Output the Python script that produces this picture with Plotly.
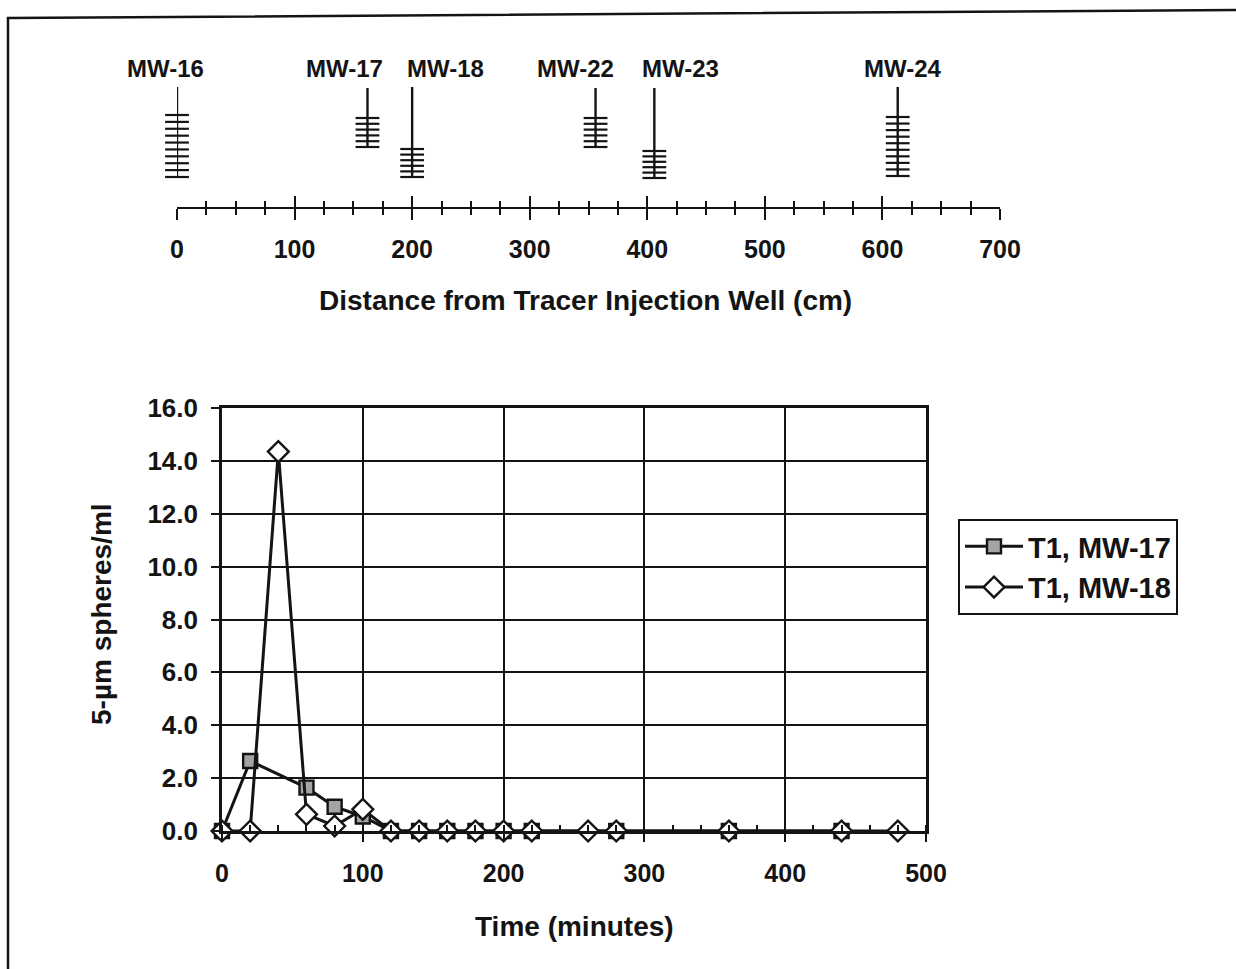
import numpy as np
import plotly.graph_objects as go

W, H = 1236, 969
FONT = "Liberation Sans, Arial, sans-serif"
INK = "#141414"

# ---- monitoring-well layout (distance from injection well, cm) ----
well_names = ["MW-16", "MW-17", "MW-18", "MW-22", "MW-23", "MW-24"]
well_distance_cm = [0, 162, 200, 356, 406, 613]
# relative depth of casing top and screened interval (schematic units)
casing_top = [0, 1, 0, 1, 1, 0]
screen_top = [28, 31, 62, 31, 64, 30]
screen_bottom = [90, 60, 90, 60, 91, 89]
screen_marks = [10, 6, 6, 6, 6, 10]
label_shift_px = [-12, -23, 33, -20, 26, 5]

# ---- sphere breakthrough, test T1 ----
t_mw17 = [0, 20, 60, 80, 100, 120, 140, 160, 180, 200, 220, 280, 360, 440]
c_mw17 = [0.0, 2.65, 1.64, 0.92, 0.55, 0.0, 0.0, 0.0, 0.0, 0.0, 0.0, 0.0, 0.0, 0.0]
t_mw18 = [0, 20, 40, 60, 80, 100, 120, 140, 160, 180, 200, 220, 260, 280, 360, 440, 480]
c_mw18 = [0.0, 0.0, 14.35, 0.63, 0.19, 0.82, 0.0, 0.0, 0.0, 0.0, 0.0, 0.0, 0.0, 0.0, 0.0, 0.0, 0.0]

y_ticks = [0, 2, 4, 6, 8, 10, 12, 14, 16]
t_ticks = [0, 100, 200, 300, 400, 500]
d_ticks = [0, 100, 200, 300, 400, 500, 600, 700]


def px(x):
    return x / W


def py(y):
    return 1 - y / H


def bold(s):
    return f"<b>{s}</b>"


fig = go.Figure()

# ---- well schematic ----
for name, d, top, s0, s1, n in zip(well_names, well_distance_cm, casing_top,
                                   screen_top, screen_bottom, screen_marks):
    fig.add_trace(go.Scatter(
        x=[d, d], y=[top, s1], mode="lines", xaxis="x2", yaxis="y2",
        line=dict(color=INK, width=2.4), showlegend=False, hoverinfo="skip"))
    depths = np.linspace(s0, s1, n)
    fig.add_trace(go.Scatter(
        x=[d] * n, y=depths, mode="markers", xaxis="x2", yaxis="y2",
        marker=dict(symbol="line-ew", size=17, line=dict(color=INK, width=2.2)),
        showlegend=False, hoverinfo="skip", cliponaxis=False))

# ---- breakthrough curves ----
fig.add_trace(go.Scatter(
    x=t_mw17, y=c_mw17, mode="lines+markers", name=bold("T1, MW-17"),
    legendgroup="a", cliponaxis=False,
    line=dict(color=INK, width=3),
    marker=dict(symbol="square", size=14, color="#a4a4a4",
                line=dict(color=INK, width=2.4))))
fig.add_trace(go.Scatter(
    x=t_mw18, y=c_mw18, mode="lines+markers", name=bold("T1, MW-18"),
    legendgroup="b", cliponaxis=False,
    line=dict(color=INK, width=3),
    marker=dict(symbol="diamond", size=16, color="white",
                line=dict(color=INK, width=2.4))))

tick_font = dict(family=FONT, size=25, color=INK, weight="bold")

fig.update_layout(
    width=W, height=H,
    margin=dict(l=0, r=0, t=0, b=0),
    paper_bgcolor="white", plot_bgcolor="white",
    font=dict(family=FONT, color=INK),
    showlegend=True,
    legend=dict(x=px(958), y=py(519), xanchor="left", yanchor="top",
                bordercolor=INK, borderwidth=2, bgcolor="white",
                font=dict(family=FONT, size=29, color=INK),
                itemwidth=58, tracegroupgap=0),
    xaxis=dict(domain=[px(222), px(926)], range=[0, 500], tickvals=t_ticks,
               ticks="outside", ticklen=8, tickwidth=2, tickcolor=INK,
               minor=dict(dtick=20, ticks="inside", ticklen=6, tickwidth=1.8,
                          tickcolor=INK, showgrid=False),
               showgrid=True, gridcolor=INK, gridwidth=2,
               showline=True, linecolor=INK, linewidth=2.6, mirror=True,
               zeroline=False, tickfont=tick_font, ticklabelstandoff=10,
               automargin=False, anchor="y"),
    yaxis=dict(domain=[py(831), py(408)], range=[0, 16], tickvals=y_ticks,
               tickformat=".1f", ticks="outside", ticklen=8, tickwidth=2,
               tickcolor=INK, showgrid=True, gridcolor=INK, gridwidth=2,
               showline=True, linecolor=INK, linewidth=2.6, mirror=True,
               zeroline=False, tickfont=dict(tick_font, size=26),
               ticklabelstandoff=8, automargin=False, anchor="x"),
    xaxis2=dict(domain=[px(177), px(1000)], range=[0, 700], tickvals=d_ticks,
                ticks="outside", ticklen=11, tickwidth=2.2, tickcolor=INK,
                minor=dict(dtick=25, ticks="outside", ticklen=6, tickwidth=2,
                           tickcolor=INK),
                showgrid=False, zeroline=False, showline=True,
                linecolor=INK, linewidth=2.2, tickfont=tick_font,
                ticklabelstandoff=8, automargin=False, anchor="y2"),
    xaxis3=dict(overlaying="x2", range=[0, 700], tickvals=d_ticks,
                ticks="inside", ticklen=11, tickwidth=2.2, tickcolor=INK,
                minor=dict(dtick=25, ticks="inside", ticklen=6, tickwidth=2,
                           tickcolor=INK),
                showticklabels=False, showgrid=False, zeroline=False,
                showline=False, anchor="y2", side="bottom"),
    yaxis2=dict(domain=[py(207), py(67)], range=[120, -20], visible=False,
                anchor="x2"),
)

# invisible point so the inside-tick overlay axis is drawn
fig.add_trace(go.Scatter(x=[0], y=[120], xaxis="x3", yaxis="y2", mode="markers",
                         marker=dict(size=0.1, opacity=0), showlegend=False,
                         hoverinfo="skip"))

# well labels
for name, d, sh in zip(well_names, well_distance_cm, label_shift_px):
    fig.add_annotation(x=d, y=-19, xref="x2", yref="y2", text=bold(name),
                       xshift=sh, showarrow=False, xanchor="center",
                       yanchor="middle",
                       font=dict(family=FONT, size=24, color=INK))

# axis titles
title_font = dict(family=FONT, size=28, color=INK)
fig.add_annotation(x=px(585), y=py(300), xref="paper", yref="paper",
                   text=bold("Distance from Tracer Injection Well (cm)"),
                   showarrow=False, xanchor="center", yanchor="middle",
                   font=title_font)
fig.add_annotation(x=px(574), y=py(926), xref="paper", yref="paper",
                   text=bold("Time (minutes)"), showarrow=False,
                   xanchor="center", yanchor="middle", font=title_font)
fig.add_annotation(x=px(101), y=py(614), xref="paper", yref="paper",
                   text=bold("5-µm spheres/ml"), textangle=-90, showarrow=False,
                   xanchor="center", yanchor="middle", font=title_font)

# page frame
fig.add_shape(type="path", xref="paper", yref="paper",
              path=f"M {px(8)} {py(980)} L {px(8)} {py(18)} L {px(1245)} {py(10)}",
              line=dict(color=INK, width=2.5))

fig.write_html("out.html")
